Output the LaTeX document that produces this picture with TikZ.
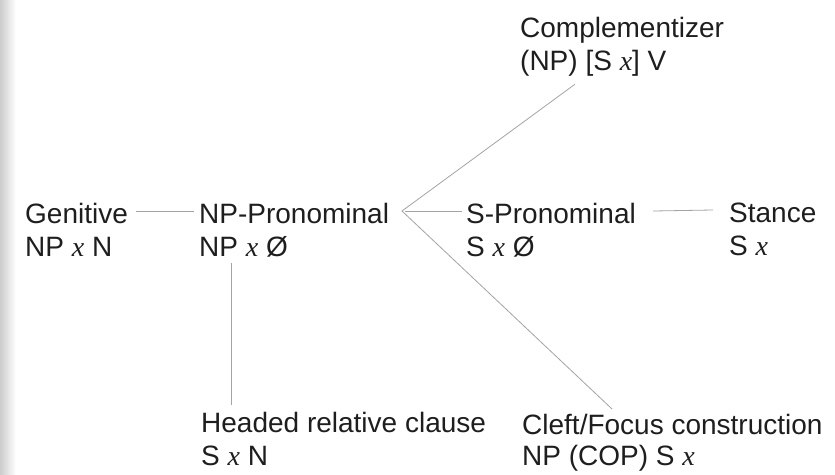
\documentclass[tikz,border=0pt]{standalone}
\usepackage{fontspec}
\setmainfont{Liberation Sans}
\newfontfamily\tmsfont{Liberation Serif}
\usetikzlibrary{calc}
\definecolor{ink}{HTML}{1E1E1E}
\definecolor{linkgray}{HTML}{A4A4A4}
\newcommand\vx{{\tmsfont\itshape x}}
\newcommand\mystrut{\rule{0pt}{21pt}}
\begin{document}
\begin{tikzpicture}[x=1pt,y=-1pt,
  lbl/.style={anchor=north west,inner sep=0pt,align=left,text=ink,
    font=\fontsize{28}{33}\selectfont},
  link/.style={draw=linkgray,line width=0.8pt}]
\useasboundingbox (0,0) rectangle (835,474);
\fill[white] (0,0) rectangle (835,474);
\shade[left color=gray!40,right color=white] (0,0) rectangle (16,474);

\node[lbl] (gen)    at (25,202)  {\mystrut Genitive\\NP \vx{} N};
\node[lbl] (npp)    at (199,202) {\mystrut NP-Pronominal\\NP \vx{} Ø};
\node[lbl] (spr)    at (466,202) {\mystrut S-Pronominal\\S \vx{} Ø};
\node[lbl] (stance) at (729,201) {\mystrut Stance\\S \vx};
\node[lbl] (comp)   at (520,16)  {\mystrut Complementizer\\(NP) [S \vx] V};
\node[lbl] (headed) at (201,411) {\mystrut Headed relative clause\\S \vx{} N};
\node[lbl] (cleft)  at (522,413) {\mystrut Cleft/Focus construction\\[-2pt]NP (COP) S \vx};

\coordinate (v) at (402,211);

\draw[link] ($(gen.north east)+(8,9)$) -- ($(npp.north west)+(-5,9)$);
\draw[link] ($(comp.south west)+(55,8)$) -- (v) -- ($(cleft.north west)+(90,-4)$);
\draw[link] ($(v)+(3,0)$) -- ($(spr.north west)+(-4,9)$);
\draw[link] ($(spr.north east)+(17,9)$) -- ($(stance.north west)+(-16,9)$);
\draw[link] ($(npp.south west)+(32,6)$) -- ($(headed.north west)+(30,-6)$);
\end{tikzpicture}
\end{document}
